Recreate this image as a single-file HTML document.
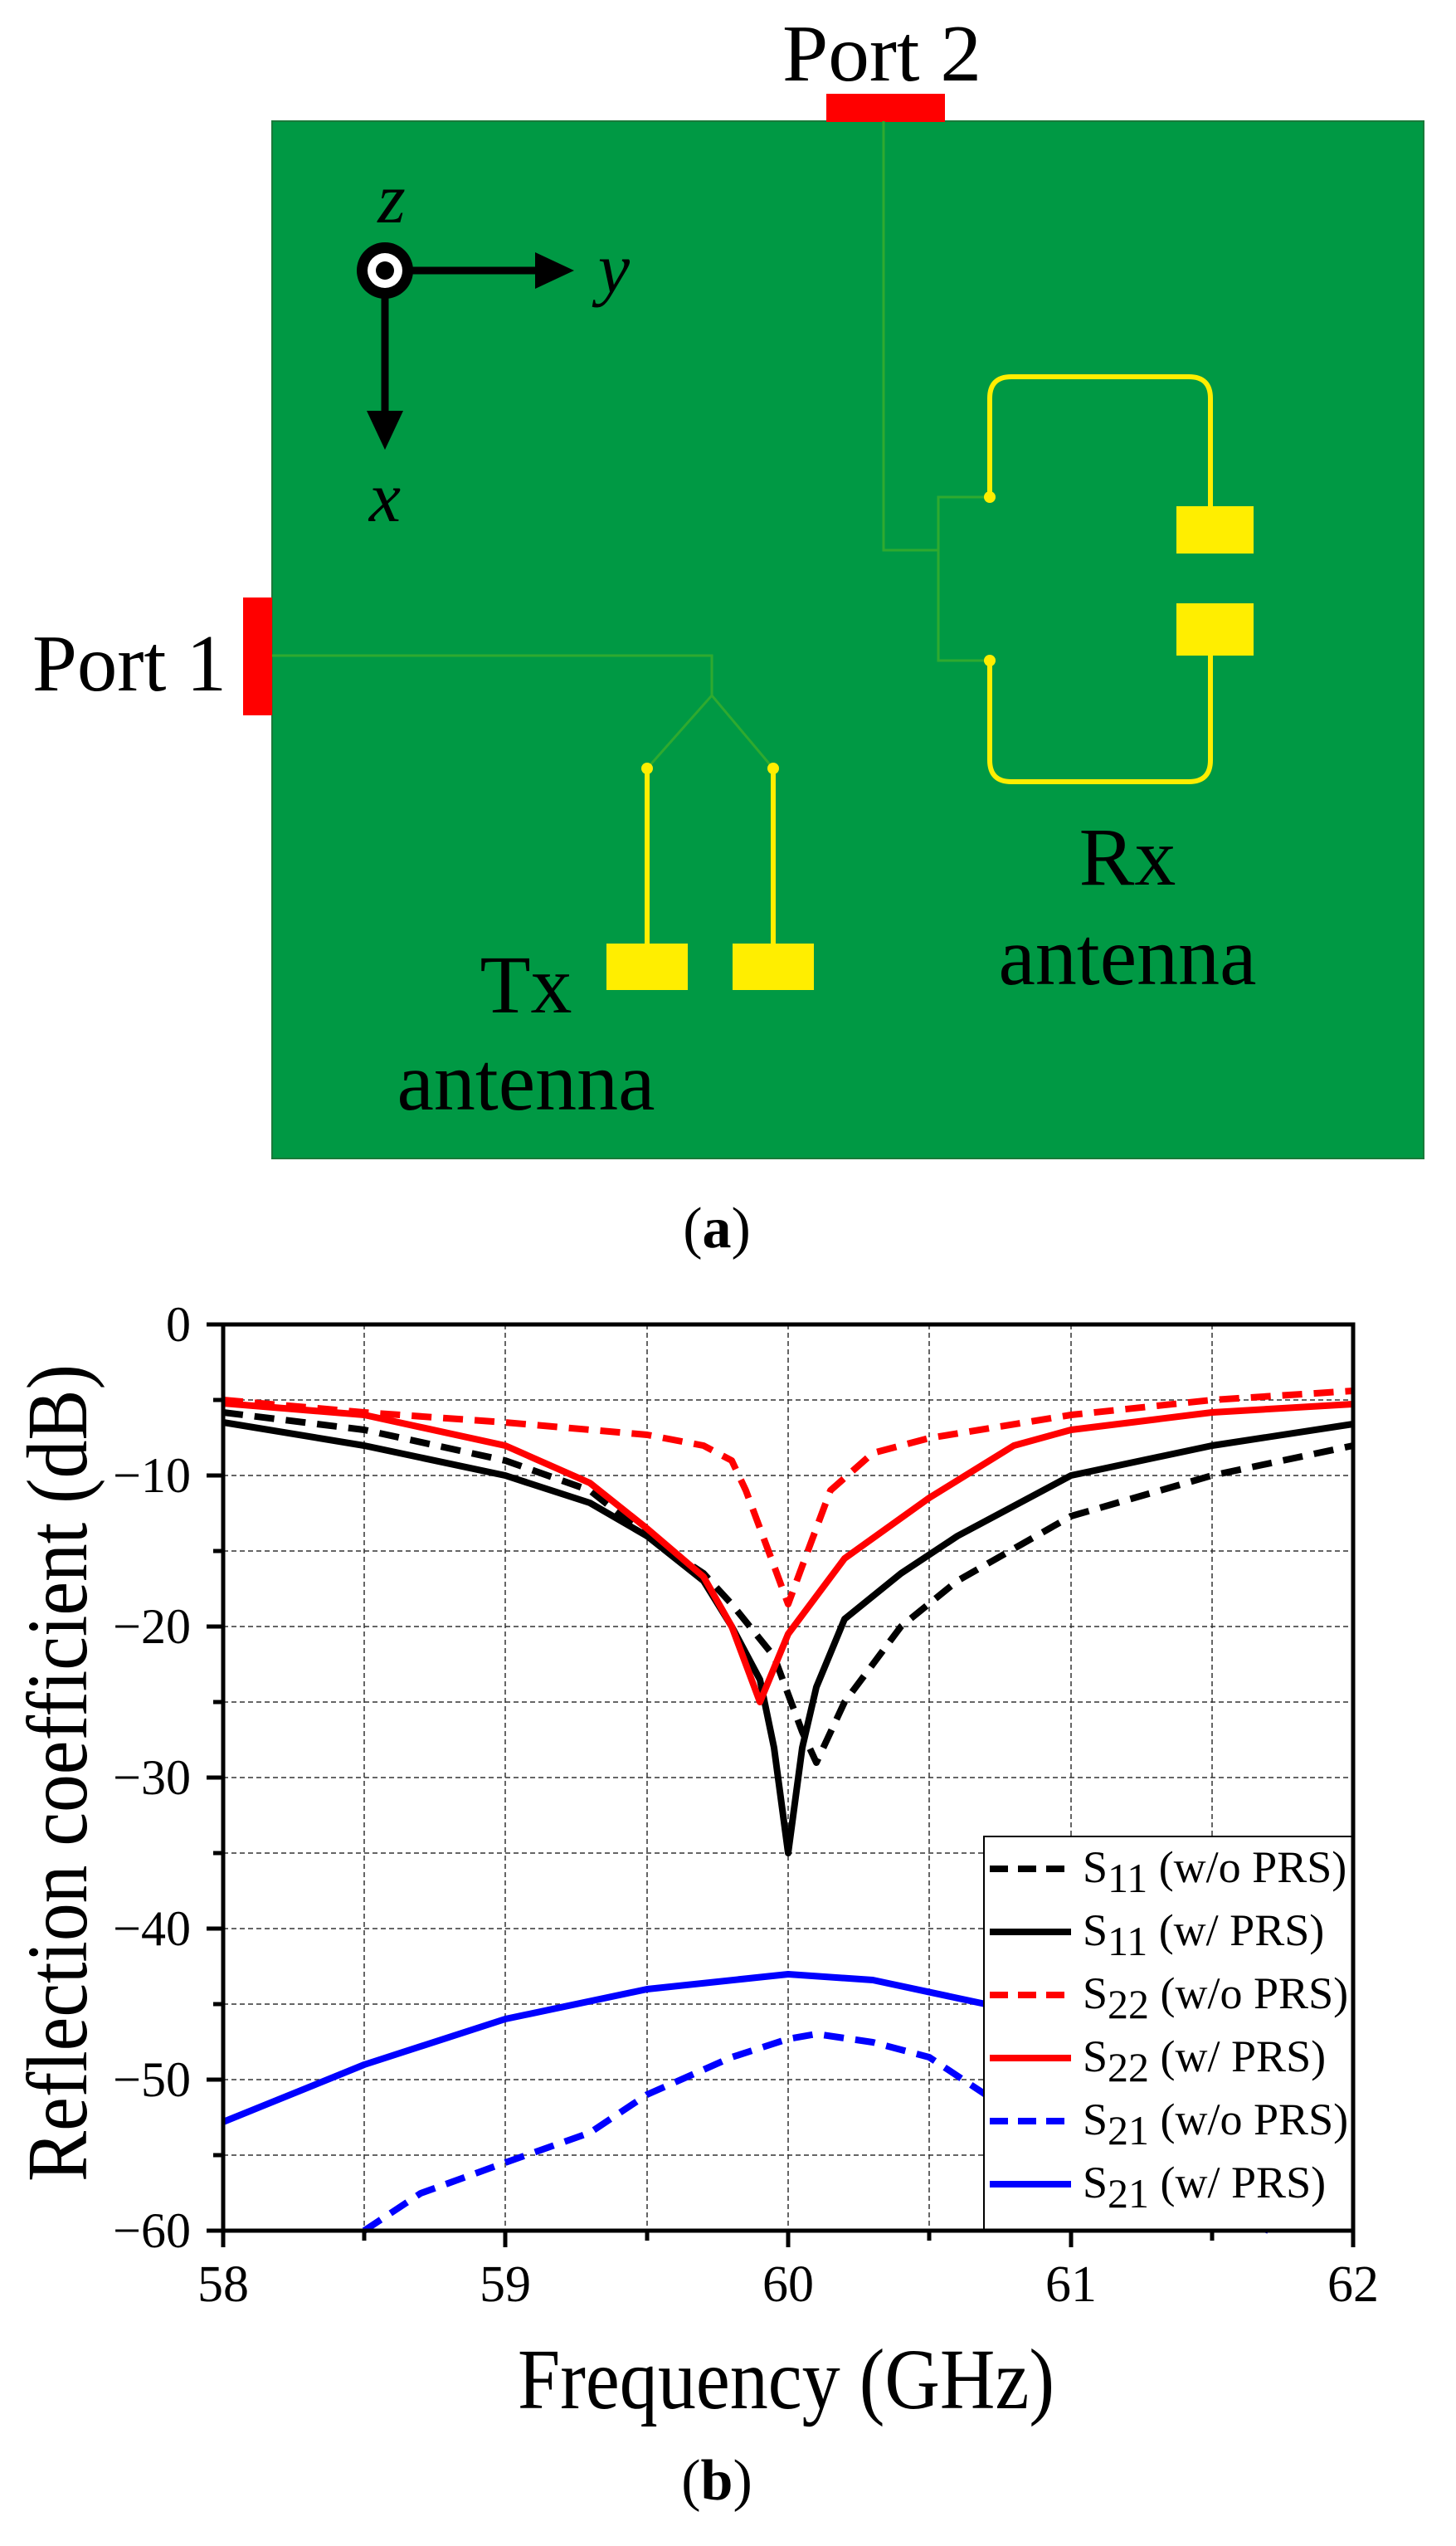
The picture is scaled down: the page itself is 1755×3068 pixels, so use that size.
<!DOCTYPE html>
<html><head><meta charset="utf-8"><style>
html,body{margin:0;padding:0;background:#fff}
svg{display:block}
text{font-family:"Liberation Serif",serif;fill:#000}
</style></head><body>
<svg width="1755" height="3068" viewBox="0 0 1755 3068" xmlns="http://www.w3.org/2000/svg">
<rect x="328" y="146" width="1388" height="1250" fill="#009944" stroke="#1a7a3a" stroke-width="2"/>
<rect x="996" y="113" width="143" height="34" fill="#ff0000"/>
<rect x="293" y="720" width="35" height="142" fill="#ff0000"/>
<text x="1063" y="97" font-size="98" text-anchor="middle" textLength="240" lengthAdjust="spacingAndGlyphs">Port 2</text>
<text x="156" y="832" font-size="98" text-anchor="middle" textLength="234" lengthAdjust="spacingAndGlyphs">Port 1</text>
<g stroke="#2faa2f" stroke-width="3" fill="none">
<polyline points="1065,146 1065,663 1131,663"/>
<polyline points="1193,599 1131,599 1131,796 1193,796"/>
<polyline points="328,790 858,790 858,838"/>
<polyline points="780,926 858,838 932,926"/>
</g>
<g stroke="#ffee00" stroke-width="6" fill="none">
<path d="M1193,599 L1193,480 Q1193,454 1219,454 L1433,454 Q1459,454 1459,480 L1459,620"/>
<path d="M1193,796 L1193,916 Q1193,942 1219,942 L1433,942 Q1459,942 1459,916 L1459,780"/>
<line x1="780" y1="926" x2="780" y2="1150"/>
<line x1="932" y1="926" x2="932" y2="1150"/>
</g>
<g fill="#ffee00">
<circle cx="1193" cy="599" r="7"/><circle cx="1193" cy="796" r="7"/>
<circle cx="780" cy="926" r="7"/><circle cx="932" cy="926" r="7"/>
<rect x="1418" y="610" width="93" height="57"/>
<rect x="1418" y="727" width="93" height="63"/>
<rect x="731" y="1137" width="98" height="56"/>
<rect x="883" y="1137" width="98" height="56"/>
</g>
<line x1="464" y1="326" x2="650" y2="326" stroke="#000" stroke-width="9"/>
<polygon points="645,304 692,326 645,348" fill="#000"/>
<line x1="464" y1="326" x2="464" y2="500" stroke="#000" stroke-width="9"/>
<polygon points="442,495 464,542 486,495" fill="#000"/>
<circle cx="464" cy="326" r="34" fill="#000"/>
<circle cx="464" cy="326" r="21" fill="#fff"/>
<circle cx="464" cy="326" r="11" fill="#000"/>
<text x="472" y="268" font-size="86" font-style="italic" text-anchor="middle">z</text>
<text x="740" y="352" font-size="86" font-style="italic" text-anchor="middle">y</text>
<text x="464" y="628" font-size="86" font-style="italic" text-anchor="middle">x</text>
<g font-size="100" text-anchor="middle">
<text x="634" y="1220">Tx</text>
<text x="634" y="1337">antenna</text>
<text x="1359" y="1066">Rx</text>
<text x="1359" y="1186">antenna</text>
</g>
<text x="864" y="1503" font-size="70" text-anchor="middle">(<tspan font-weight="bold">a</tspan>)</text>

<g stroke="#333" stroke-width="1.5" stroke-dasharray="6,4">
<line x1="439" y1="1596" x2="439" y2="2688"/><line x1="609" y1="1596" x2="609" y2="2688"/>
<line x1="780" y1="1596" x2="780" y2="2688"/><line x1="950" y1="1596" x2="950" y2="2688"/>
<line x1="1120" y1="1596" x2="1120" y2="2688"/><line x1="1291" y1="1596" x2="1291" y2="2688"/>
<line x1="1461" y1="1596" x2="1461" y2="2688"/>
<line x1="269" y1="1687" x2="1631" y2="1687"/><line x1="269" y1="1778" x2="1631" y2="1778"/>
<line x1="269" y1="1869" x2="1631" y2="1869"/><line x1="269" y1="1960" x2="1631" y2="1960"/>
<line x1="269" y1="2051" x2="1631" y2="2051"/><line x1="269" y1="2142" x2="1631" y2="2142"/>
<line x1="269" y1="2233" x2="1631" y2="2233"/><line x1="269" y1="2324" x2="1631" y2="2324"/>
<line x1="269" y1="2415" x2="1631" y2="2415"/><line x1="269" y1="2506" x2="1631" y2="2506"/>
<line x1="269" y1="2597" x2="1631" y2="2597"/>
</g>
<g fill="none" stroke-width="8" stroke-linejoin="round" stroke-linecap="butt">
<polyline stroke="#0000ff" points="269,2557 439,2488 609,2433 780,2397 950,2379 1052,2386 1188,2415 1291,2451 1461,2506 1631,2552"/>
<polyline stroke="#0000ff" stroke-dasharray="24,14" points="439,2688 507,2643 609,2606 711,2570 780,2524 882,2479 950,2457 984,2451 1052,2461 1120,2479 1188,2524 1291,2579 1427,2643 1529,2688"/>
<polyline stroke="#000" stroke-dasharray="24,14" points="269,1702 439,1723 609,1760 711,1796 780,1851 848,1896 882,1933 933,1996 967,2087 984,2124 1018,2051 1086,1960 1154,1905 1291,1827 1461,1778 1631,1742"/>
<polyline stroke="#000" points="269,1714 439,1742 609,1778 711,1811 780,1851 848,1905 882,1960 916,2024 933,2106 950,2233 967,2106 984,2033 1018,1951 1086,1896 1154,1851 1291,1778 1461,1742 1631,1716"/>
<polyline stroke="#ff0000" stroke-dasharray="24,14" points="269,1687 439,1702 609,1714 780,1729 848,1742 882,1760 899,1796 933,1887 950,1933 967,1887 1001,1796 1052,1751 1120,1733 1291,1705 1461,1687 1631,1676"/>
<polyline stroke="#ff0000" points="269,1691 439,1705 609,1742 711,1787 780,1842 848,1900 882,1960 916,2051 950,1969 1018,1878 1120,1805 1222,1742 1291,1723 1461,1702 1631,1692"/>
</g>
<rect x="1186" y="2213" width="445" height="475" fill="#fff" stroke="#000" stroke-width="2"/>
<g stroke-width="8" fill="none">
<line x1="1193" y1="2252" x2="1291" y2="2252" stroke="#000" stroke-dasharray="22,12"/>
<line x1="1193" y1="2328" x2="1291" y2="2328" stroke="#000"/>
<line x1="1193" y1="2404" x2="1291" y2="2404" stroke="#ff0000" stroke-dasharray="22,12"/>
<line x1="1193" y1="2480" x2="1291" y2="2480" stroke="#ff0000"/>
<line x1="1193" y1="2556" x2="1291" y2="2556" stroke="#0000ff" stroke-dasharray="22,12"/>
<line x1="1193" y1="2632" x2="1291" y2="2632" stroke="#0000ff"/>
</g>
<g font-size="54">
<text x="1305" y="2268">S<tspan font-size="50" dy="12">11</tspan><tspan dy="-12"> (w/o PRS)</tspan></text>
<text x="1305" y="2344">S<tspan font-size="50" dy="12">11</tspan><tspan dy="-12"> (w/ PRS)</tspan></text>
<text x="1305" y="2420">S<tspan font-size="50" dy="12">22</tspan><tspan dy="-12"> (w/o PRS)</tspan></text>
<text x="1305" y="2496">S<tspan font-size="50" dy="12">22</tspan><tspan dy="-12"> (w/ PRS)</tspan></text>
<text x="1305" y="2572">S<tspan font-size="50" dy="12">21</tspan><tspan dy="-12"> (w/o PRS)</tspan></text>
<text x="1305" y="2648">S<tspan font-size="50" dy="12">21</tspan><tspan dy="-12"> (w/ PRS)</tspan></text>
</g>
<rect x="269" y="1596" width="1362" height="1092" fill="none" stroke="#000" stroke-width="5"/>
<g stroke="#000" stroke-width="5">
<line x1="269" y1="2688" x2="269" y2="2708"/><line x1="609" y1="2688" x2="609" y2="2708"/>
<line x1="950" y1="2688" x2="950" y2="2708"/><line x1="1291" y1="2688" x2="1291" y2="2708"/>
<line x1="1631" y1="2688" x2="1631" y2="2708"/>
<line x1="439" y1="2688" x2="439" y2="2700"/><line x1="780" y1="2688" x2="780" y2="2700"/>
<line x1="1120" y1="2688" x2="1120" y2="2700"/><line x1="1461" y1="2688" x2="1461" y2="2700"/>
<line x1="249" y1="1596" x2="269" y2="1596"/><line x1="249" y1="1778" x2="269" y2="1778"/>
<line x1="249" y1="1960" x2="269" y2="1960"/><line x1="249" y1="2142" x2="269" y2="2142"/>
<line x1="249" y1="2324" x2="269" y2="2324"/><line x1="249" y1="2506" x2="269" y2="2506"/>
<line x1="249" y1="2688" x2="269" y2="2688"/>
<line x1="257" y1="1687" x2="269" y2="1687"/><line x1="257" y1="1869" x2="269" y2="1869"/>
<line x1="257" y1="2051" x2="269" y2="2051"/><line x1="257" y1="2233" x2="269" y2="2233"/>
<line x1="257" y1="2415" x2="269" y2="2415"/><line x1="257" y1="2597" x2="269" y2="2597"/>
</g>
<g font-size="60" text-anchor="end">
<text x="230" y="1616">0</text><text x="230" y="1798">−10</text><text x="230" y="1980">−20</text>
<text x="230" y="2162">−30</text><text x="230" y="2344">−40</text><text x="230" y="2526">−50</text>
<text x="230" y="2708">−60</text>
</g>
<g font-size="62" text-anchor="middle">
<text x="269" y="2773">58</text><text x="609" y="2773">59</text><text x="950" y="2773">60</text>
<text x="1291" y="2773">61</text><text x="1631" y="2773">62</text>
</g>
<text x="624" y="2902" font-size="104" textLength="647" lengthAdjust="spacingAndGlyphs">Frequency (GHz)</text>
<text transform="translate(104,2629) rotate(-90)" font-size="104" textLength="985" lengthAdjust="spacingAndGlyphs">Reflection coefficient (dB)</text>
<text x="864" y="3012" font-size="70" text-anchor="middle">(<tspan font-weight="bold">b</tspan>)</text>
</svg>
</body></html>
